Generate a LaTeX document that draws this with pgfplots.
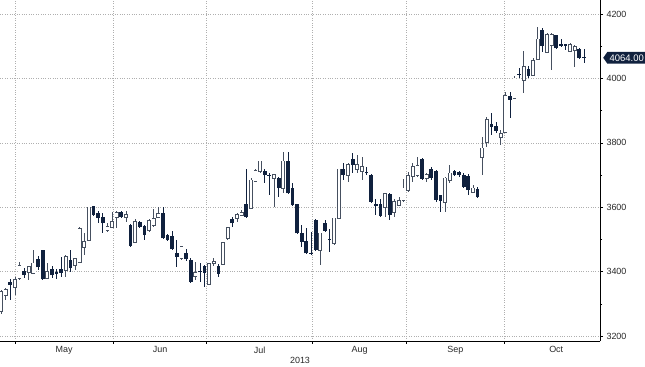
\documentclass[border=0pt]{standalone}
\usepackage{pgfplots}
\usepackage{pgfplotstable}
\pgfplotsset{compat=1.18}
\usetikzlibrary{shapes.symbols}
\usepackage{fontspec}
\setmainfont{Liberation Sans}
\definecolor{navy}{RGB}{16,33,62}
\definecolor{wick}{RGB}{70,80,96}
\definecolor{gridc}{RGB}{175,175,175}
\definecolor{labc}{RGB}{40,40,40}
% x = trading-day index, L = low, B = body bottom, T = body top, H = high
\pgfplotstableread{
x L B T H
0 3268 3278 3337 3343
1 3312 3327 3343 3349
3 3327 3352 3374 3384
4 3374 3380 3417 3431
6 3374 3400 3415 3417
7 3395 3397 3426 3467
10 3376 3379 3400 3426
14 3383 3405 3446 3452
16 3405 3420 3439 3441
17 3430 3431 3532 3538
18 3452 3477 3493 3519
19 3495 3498 3600 3602
23 3524 3529 3539 3550
24 3535 3538 3555 3586
25 3535 3569 3583 3589
27 3555 3569 3576 3589
29 3488 3493 3555 3562
32 3524 3529 3558 3562
33 3538 3545 3563 3594
34 3566 3569 3579 3600
39 3436 3441 3477 3480
42 3374 3386 3397 3431
45 3358 3361 3424 3426
46 3417 3428 3431 3441
48 3420 3424 3490 3492
49 3498 3503 3535 3538
51 3555 3566 3576 3583
52 3573 3576 3583 3591
54 3594 3596 3684 3691
55 3679 3682 3713 3718
56 3705 3711 3742 3745
59 3602 3690 3700 3703
61 3643 3659 3742 3770
69 3420 3467 3519 3521
72 3483 3488 3565 3567
73 3563 3565 3718 3720
75 3679 3700 3731 3738
77 3705 3718 3731 3762
78 3684 3711 3726 3757
83 3571 3602 3641 3643
85 3571 3586 3617 3624
86 3604 3607 3620 3631
87 3617 3622 3659 3687
88 3647 3653 3697 3709
89 3679 3697 3726 3736
90 3695 3700 3728 3757
92 3679 3690 3700 3705
96 3586 3617 3690 3693
97 3674 3686 3705 3731
102 3643 3648 3659 3669
104 3700 3755 3783 3819
105 3788 3801 3871 3881
108 3793 3817 3827 3840
109 3834 3835 3945 3959
111 3935 3938 4000 4007
113 3954 3995 4036 4086
115 4008 4011 4055 4062
116 4057 4059 4121 4161
118 4078 4083 4135 4140
119 4026 4104 4135 4140
123 4083 4086 4104 4109
124 4036 4088 4098 4104
}\up
\pgfplotstableread{
x L B T H
2 3312 3358 3366 3377
5 3380 3389 3400 3411
8 3405 3413 3438 3448
9 3374 3376 3465 3467
11 3380 3389 3407 3417
12 3376 3393 3397 3407
13 3383 3397 3407 3446
15 3400 3410 3434 3467
20 3574 3576 3602 3604
21 3550 3566 3579 3589
22 3521 3550 3567 3581
26 3566 3569 3583 3588
28 3476 3480 3542 3548
30 3535 3539 3552 3558
31 3498 3514 3539 3545
35 3501 3503 3579 3602
36 3495 3498 3511 3517
37 3467 3469 3508 3527
38 3413 3446 3455 3498
40 3434 3438 3455 3469
41 3368 3369 3436 3442
43 3368 3398 3400 3427
44 3353 3395 3417 3420
47 3384 3393 3417 3424
50 3538 3550 3562 3570
53 3566 3569 3607 3718
57 3674 3700 3711 3718
58 3638 3698 3700 3705
60 3633 3659 3690 3695
62 3641 3643 3742 3770
63 3604 3607 3659 3674
64 3517 3519 3607 3610
65 3477 3493 3519 3545
66 3455 3457 3493 3534
67 3452 3455 3457 3524
68 3465 3467 3558 3562
70 3526 3527 3548 3560
71 3462 3498 3500 3531
74 3684 3700 3718 3736
76 3705 3731 3747 3767
79 3700 3705 3707 3726
80 3616 3617 3700 3702
81 3576 3605 3607 3624
82 3571 3573 3607 3624
84 3560 3576 3638 3643
91 3684 3687 3749 3752
93 3684 3690 3718 3726
94 3617 3622 3711 3716
95 3586 3620 3635 3638
98 3697 3700 3711 3716
99 3694 3700 3709 3712
100 3663 3664 3700 3706
101 3638 3653 3695 3703
103 3629 3631 3656 3664
106 3824 3850 3858 3894
107 3832 3838 3852 3866
110 3876 3933 3945 3959
112 4000 4011 4013 4031
114 4000 4006 4028 4039
117 4083 4101 4150 4156
120 4091 4093 4132 4135
121 4101 4102 4104 4121
122 4088 4102 4104 4107
125 4060 4062 4090 4093
126 4049 4064 4066 4090
}\dn
\begin{document}
\begin{tikzpicture}
\path[use as bounding box] (0,-26bp) rectangle (645bp,341bp);
\begin{axis}[
  width=600bp, height=341bp, scale only axis,
  at={(0,0)}, anchor=south west,
  xmin=-0.216, xmax=129.46,
  ymin=3184.5, ymax=4243.5,
  axis x line*=bottom, axis y line*=right,
  axis line style={black, line width=0.8bp},
  tick align=outside,
  tick style={black, line width=0.5bp},
  major tick length=3bp, minor tick length=2bp,
  xtick={3.03,24.27,44.46,67.37,87.68,108.78},
  xticklabels={},
  xmajorgrids,
  extra x ticks={13.65,34.37,55.9,77.5,98.2,120},
  extra x tick labels={May,Jun,Jul,Aug,Sep,Oct},
  extra x tick style={grid=none, major tick length=0pt},
  ytick={3200,3400,3600,3800,4000,4200},
  minor y tick num=1,
  ymajorgrids,
  grid style={dotted, gridc, line width=0.45bp},
  ytick pos=right, yticklabel pos=right,
  /pgf/number format/assume math mode=true,
  /pgf/number format/1000 sep={},
  ticklabel style={font=\fontsize{9}{10}\selectfont, text=labc},
  xticklabel style={yshift=-2bp},
  candle/.style={draw=none, mark=none, forget plot,
    error bars/.cd, y dir=both, y explicit, error mark=none},
]
% wicks
\addplot[candle, error bar style={draw=wick, line width=0.7bp}]
  table[x=x, y=B, y error plus expr=\thisrow{H}-\thisrow{B}, y error minus expr=\thisrow{B}-\thisrow{L}] {\up};
\addplot[candle, error bar style={draw=navy, line width=0.7bp}]
  table[x=x, y=B, y error plus expr=\thisrow{H}-\thisrow{B}, y error minus expr=\thisrow{B}-\thisrow{L}] {\dn};
% hollow (rising) bodies: outline, then white inside
\addplot[candle, error bar style={draw=wick, line width=3.8bp}]
  table[x=x, y=B, y error plus expr=\thisrow{T}-\thisrow{B}+2.0, y error minus expr=2.0] {\up};
\addplot[candle, error bar style={draw=white, line width=2.4bp}]
  table[x=x, y=B, y error plus expr=\thisrow{T}-\thisrow{B}, y error minus expr=0] {\up};
% filled (falling) bodies
\addplot[candle, error bar style={draw=navy, line width=3.8bp}]
  table[x=x, y=B, y error plus expr=\thisrow{T}-\thisrow{B}+1.5, y error minus expr=0] {\dn};
\coordinate (lastlab) at (axis cs:129.46,4064);
\coordinate (bot) at (rel axis cs:0.5,0);
\end{axis}
\node[signal, signal to=west, signal pointer angle=110, fill=navy, text=white,
  inner xsep=2.2bp, inner ysep=2.6bp, font=\fontsize{9.5}{10}\selectfont, anchor=west]
  at ([xshift=3bp]lastlab) {4064.00};
\node[font=\fontsize{9}{10}\selectfont, text=labc] at ([yshift=-19bp]bot) {2013};
\end{tikzpicture}
\end{document}
